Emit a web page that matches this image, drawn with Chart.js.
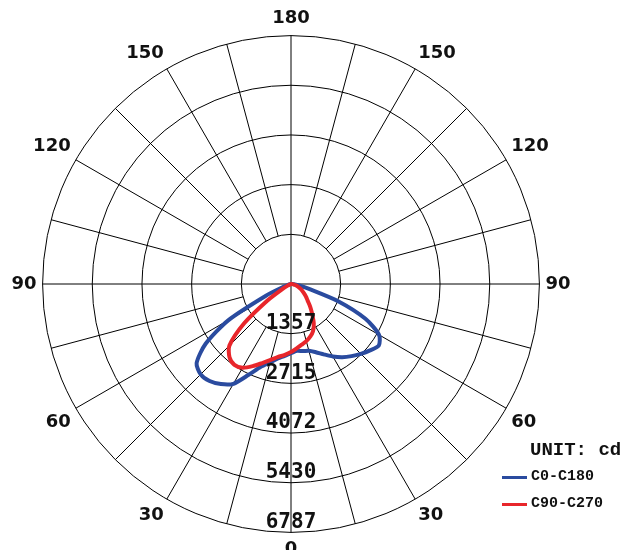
<!DOCTYPE html>
<html>
<head>
<meta charset="utf-8">
<title>Light distribution</title>
<script src="https://cdn.jsdelivr.net/npm/chart.js"></script>
<style>
  body { margin: 0; background: #fff; overflow: hidden; }
  #wrap { position: relative; width: 628px; height: 570px; }
  .lg { position: absolute; font-family: "Liberation Mono", monospace; font-weight: bold; color: #111; line-height: 1; white-space: nowrap; }
  .sw { position: absolute; height: 3px; width: 25px; }
</style>
</head>
<body>
<div id="wrap">
  <canvas id="polar"></canvas>
  <div class="lg" style="left:530px; top:441px; font-size:19px;">UNIT: cd</div>
  <div class="sw" style="left:502px; top:476px; background:#2a4b9f;"></div>
  <div class="lg" style="left:531px; top:469px; font-size:15px;">C0-C180</div>
  <div class="sw" style="left:502px; top:503px; background:#e8262b;"></div>
  <div class="lg" style="left:531px; top:496px; font-size:15px;">C90-C270</div>
</div>
<script>
// gamma angle, 0 = straight down, 180 = straight up
const gammaDeg = [0, 5, 10, 15, 20, 25, 30, 35, 40, 45, 50, 55, 60, 65, 70, 75, 80, 85, 90,
  95, 100, 105, 110, 115, 120, 125, 130, 135, 140, 145, 150, 155, 160, 165, 170, 175, 180];

// intensity in cd, per gamma angle above
const c0 = [1889, 1834, 1861, 1889, 1984, 2121, 2285, 2440, 2573, 2699, 2819, 2929, 2778, 2244, 1371, 510, 233, 110, 0,
  0, 0, 0, 0, 0, 0, 0, 0, 0, 0, 0, 0, 0, 0, 0, 0, 0, 0];
const c180 = [1889, 1971, 2066, 2217, 2409, 2737, 3148, 3339, 3462, 3490, 3367, 2847, 1971, 755, 205, 82, 27, 0, 0,
  0, 0, 0, 0, 0, 0, 0, 0, 0, 0, 0, 0, 0, 0, 0, 0, 0, 0];
const c90 = [1861, 1765, 1683, 1615, 1533, 1423, 1245, 1013, 821, 643, 534, 424, 342, 260, 192, 137, 82, 41, 0,
  0, 0, 0, 0, 0, 0, 0, 0, 0, 0, 0, 0, 0, 0, 0, 0, 0, 0];
const c270 = [1861, 1943, 2025, 2149, 2299, 2477, 2641, 2696, 2614, 2381, 1670, 794, 274, 82, 27, 0, 0, 0, 0,
  0, 0, 0, 0, 0, 0, 0, 0, 0, 0, 0, 0, 0, 0, 0, 0, 0, 0];

const tickValues = [1357, 2715, 4072, 5430, 6787];
const maxCd = 6787;

const BLUE = '#2a4b9f';
const RED = '#e8262b';

// walk round the circle clockwise from the top, 5 deg a step:
// right half is C0 / C90, left half is C180 / C270
const labels = [], blue = [], red = [];
for (let i = 0; i < 72; i++) {
  const theta = i * 5;
  const right = theta <= 180;
  const g = right ? 180 - theta : theta - 180;
  const k = gammaDeg.indexOf(g);
  labels.push(String(g));
  blue.push(right ? c0[k] : c180[k]);
  red.push(right ? c90[k] : c270[k]);
}

// value labels sit just inside each ring, below the centre
const tickLabels = {
  id: 'tickLabels',
  afterDatasetsDraw(chart) {
    const s = chart.scales.r;
    const ctx = chart.ctx;
    ctx.save();
    ctx.font = 'bold 21px "DejaVu Sans Mono"';
    ctx.fillStyle = '#111';
    ctx.textAlign = 'center';
    ctx.textBaseline = 'middle';
    tickValues.forEach(v => {
      const d = s.getDistanceFromCenterForValue(v);
      ctx.fillText(String(v), s.xCenter, s.yCenter + d - 10);
    });
    ctx.restore();
  }
};

new Chart(document.getElementById('polar'), {
  type: 'radar',
  data: {
    labels: labels,
    datasets: [
      { label: 'C90-C270', data: red, borderColor: RED },
      { label: 'C0-C180', data: blue, borderColor: BLUE }
    ]
  },
  options: {
    responsive: true,
    maintainAspectRatio: false,
    animation: false,
    layout: { padding: { left: 0, right: 46, top: 9, bottom: 9 } },
    elements: {
      point: { radius: 0 },
      line: { borderWidth: 4, tension: 0.25, fill: false, borderJoinStyle: 'round' }
    },
    plugins: { legend: { display: false }, tooltip: { enabled: false } },
    scales: {
      r: {
        min: 0,
        max: maxCd,
        startAngle: 0,
        afterBuildTicks: s => { s.ticks = [0].concat(tickValues).map(v => ({ value: v })); },
        ticks: { display: false },
        grid: { circular: true, color: '#000', lineWidth: 1 },
        angleLines: {
          color: '#000',
          // a spoke every 15 deg
          lineWidth: c => (c.index % 3 === 0 ? 1 : 0),
          // spokes start at the first ring, except the two axes
          borderDash: c => {
            if (c.index % 18 === 0) return [];
            const r1 = c.scale.getDistanceFromCenterForValue(tickValues[0]);
            return [0, r1, 1000, 0];
          }
        },
        pointLabels: {
          padding: 6,
          color: '#111',
          font: { family: 'DejaVu Sans', size: 18, weight: 'bold' },
          callback: (l) => (Number(l) % 30 === 0 ? l : [])
        }
      }
    }
  },
  plugins: [tickLabels]
});
</script>
</body>
</html>
